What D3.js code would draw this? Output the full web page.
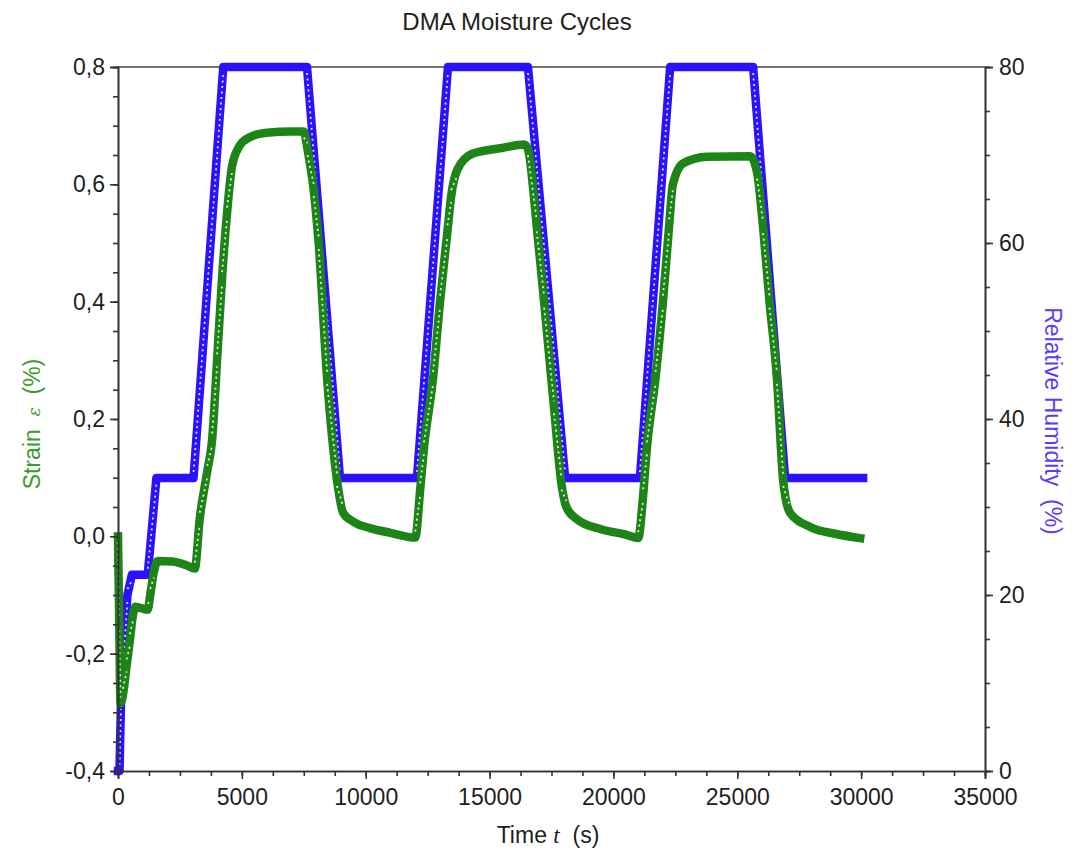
<!DOCTYPE html>
<html>
<head>
<meta charset="utf-8">
<script src="https://cdn.jsdelivr.net/npm/d3@7"></script>
<style>
  html, body { margin: 0; padding: 0; background: #fff; }
  svg { display: block; font-family: "Liberation Sans", Arial, sans-serif; }
</style>
</head>
<body>
<svg id="chart" width="1077" height="852"></svg>
<script>
// Relative humidity set-point programme (time in s, RH in %)
const rhTime  = [0, 60, 120, 380, 560, 1200, 1550, 3050, 4250, 7630, 8960, 12070, 13320, 16550, 18050, 21070, 22290, 25640, 26930, 30080];
const rhValue = [0, 0,  7.7, 20,  22.3, 22.3, 33.3, 33.3, 80,   80,   33.3, 33.3,  80,    80,    33.3,  33.3,  80,    80,    33.3,  33.3];

// Measured strain response (time in s, strain in %)
const strainTime = [
  0, 50, 100, 200, 350, 480, 600, 700, 1200, 1300, 1450, 1600, 2200, 2800, 3100,
  3300, 3600, 3800, 4000, 4200, 4400, 4600, 4900, 5300, 6000, 7000, 7500,
  7650, 7900, 8100, 8440, 8840, 9090, 9500, 10170, 11000, 12000,
  12200, 12350, 12720, 13000, 13300, 13450, 13700, 14300, 15500, 16400, 16550,
  16900, 17200, 17600, 17900, 18100, 18500, 19500, 20500, 21000,
  21200, 21350, 21700, 22000, 22250, 22400, 22820, 23780, 25520,
  25800, 26040, 26300, 26600, 26850, 27130, 27940, 29000, 29960
];
const strainValue = [
  0.0, -0.15, -0.285, -0.27, -0.22, -0.177, -0.135, -0.12, -0.125, -0.1, -0.06, -0.042, -0.043, -0.05, -0.055,
  0.03, 0.11, 0.165, 0.3, 0.44, 0.55, 0.63, 0.665, 0.68, 0.688, 0.69, 0.69,
  0.66, 0.59, 0.5, 0.27, 0.096, 0.04, 0.025, 0.014, 0.006, -0.002,
  0.08, 0.15, 0.27, 0.4, 0.52, 0.58, 0.625, 0.652, 0.662, 0.668, 0.66,
  0.53, 0.4, 0.22, 0.09, 0.05, 0.03, 0.012, 0.003, -0.003,
  0.07, 0.15, 0.27, 0.4, 0.53, 0.6, 0.636, 0.647, 0.648,
  0.62, 0.527, 0.4, 0.27, 0.096, 0.04, 0.016, 0.004, -0.003
];

// Axis ticks
const timeTicks   = [0, 5000, 10000, 15000, 20000, 25000, 30000, 35000];
const strainTicks = [-0.4, -0.2, 0.0, 0.2, 0.4, 0.6, 0.8];
const rhTicks     = [0, 20, 40, 60, 80];

const BLUE  = "#2a12ff";
const GREEN = "#1f8418";
const INK   = "#1e1e1e";

const svg = d3.select("#chart");
const plot = { left: 118, right: 985, top: 67, bottom: 771 };

const x  = d3.scaleLinear().domain([0, 35000]).range([plot.left, plot.right]);
const yL = d3.scaleLinear().domain([-0.4, 0.8]).range([plot.bottom, plot.top]);
const yR = d3.scaleLinear().domain([0, 80]).range([plot.bottom, plot.top]);

const fmtComma = v => v.toFixed(1).replace(".", ",");

// Frame top line
svg.append("line")
  .attr("x1", plot.left).attr("x2", plot.right)
  .attr("y1", plot.top).attr("y2", plot.top)
  .attr("stroke", "#444").attr("stroke-width", 1.6);

// Series drawing helper: thick stroke, hollowed on steep stretches
function drawSeries(times, values, yScale, color, curve) {
  const pts = times.map((t, i) => [x(t), yScale(values[i])]);
  const line = d3.line().curve(curve);
  const g = svg.append("g");
  g.append("path")
    .attr("d", line(pts))
    .attr("fill", "none")
    .attr("stroke", color)
    .attr("stroke-width", 8.5)
    .attr("stroke-linejoin", "round")
    .attr("stroke-linecap", "square");
  // open-marker texture on steep parts
  for (let i = 1; i < pts.length; i++) {
    const dx = Math.abs(pts[i][0] - pts[i - 1][0]);
    const dy = Math.abs(pts[i][1] - pts[i - 1][1]);
    if (dy > 3 * dx && dy > 12) {
      const dir = pts[i][1] > pts[i - 1][1] ? 1 : -1;
      g.append("line")
        .attr("x1", pts[i - 1][0]).attr("y1", pts[i - 1][1] + dir * 6)
        .attr("x2", pts[i][0]).attr("y2", pts[i][1] - dir * 6)
        .attr("stroke", "#fff")
        .attr("stroke-width", 1.8)
        .attr("stroke-dasharray", "2 3.5")
        .attr("opacity", 0.85);
    }
  }
}

drawSeries(rhTime, rhValue, yR, BLUE, d3.curveLinear);
drawSeries(strainTime, strainValue, yL, GREEN, d3.curveMonotoneX);

// Axes
const fontSize = 23;

const xMajor = d3.axisBottom(x).tickValues(timeTicks).tickSize(8).tickPadding(6).tickFormat(d3.format("d"));
const xMinor = d3.axisBottom(x).tickValues(d3.range(0, 35001, 1250)).tickSize(5).tickFormat("");
const gxm = svg.append("g").attr("transform", `translate(0,${plot.bottom})`).call(xMinor);
const gx  = svg.append("g").attr("transform", `translate(0,${plot.bottom})`).call(xMajor);

const yLMajor = d3.axisLeft(yL).tickValues(strainTicks).tickSize(8).tickPadding(5).tickFormat(fmtComma);
const yLMinor = d3.axisLeft(yL).tickValues(d3.range(-0.4, 0.8001, 0.05)).tickSize(5).tickFormat("");
const glm = svg.append("g").attr("transform", `translate(${plot.left},0)`).call(yLMinor);
const gl  = svg.append("g").attr("transform", `translate(${plot.left},0)`).call(yLMajor);

const yRMajor = d3.axisRight(yR).tickValues(rhTicks).tickSize(8).tickPadding(6).tickFormat(d3.format("d"));
const yRMinor = d3.axisRight(yR).tickValues(d3.range(0, 80.01, 5)).tickSize(5).tickFormat("");
const grm = svg.append("g").attr("transform", `translate(${plot.right},0)`).call(yRMinor);
const gr  = svg.append("g").attr("transform", `translate(${plot.right},0)`).call(yRMajor);

[gxm, gx, glm, gl, grm, gr].forEach(g => {
  g.select(".domain").attr("stroke", "#333").attr("stroke-width", 1.6);
  g.selectAll(".tick line").attr("stroke", "#333").attr("stroke-width", 1.6);
  g.selectAll(".tick text")
    .attr("fill", INK)
    .style("font-family", "'Liberation Sans', Arial, sans-serif")
    .style("font-size", fontSize + "px");
});
gx.selectAll(".tick text").attr("dy", "0.85em");

// Title
svg.append("text")
  .attr("x", 517).attr("y", 30)
  .attr("text-anchor", "middle")
  .attr("fill", INK)
  .style("font-size", "24px")
  .text("DMA Moisture Cycles");

// X-axis label
const xl = svg.append("text")
  .attr("x", 548).attr("y", 843)
  .attr("text-anchor", "middle")
  .attr("fill", INK)
  .style("white-space", "pre")
  .style("font-size", fontSize + "px");
xl.append("tspan").text("Time ");
xl.append("tspan").style("font-style", "italic").style("font-family", "'Liberation Serif', serif").text("t");
xl.append("tspan").text("  (s)");

// Left label
const ll = svg.append("text")
  .attr("transform", "translate(40,424) rotate(-90)")
  .attr("text-anchor", "middle")
  .attr("fill", "#3d9b2a")
  .style("white-space", "pre")
  .style("font-size", fontSize + "px");
ll.append("tspan").text("Strain  ");
ll.append("tspan").style("font-size", "17px").style("font-family", "'DejaVu Serif', serif").style("font-style", "italic").text("ε");
ll.append("tspan").text("  (%)");

// Right label
svg.append("text")
  .attr("transform", "translate(1045,421) rotate(90)")
  .attr("text-anchor", "middle")
  .attr("fill", "#5a3cf5")
  .style("font-size", fontSize + "px")
  .style("white-space", "pre")
  .text("Relative Humidity  (%)");
</script>
</body>
</html>
